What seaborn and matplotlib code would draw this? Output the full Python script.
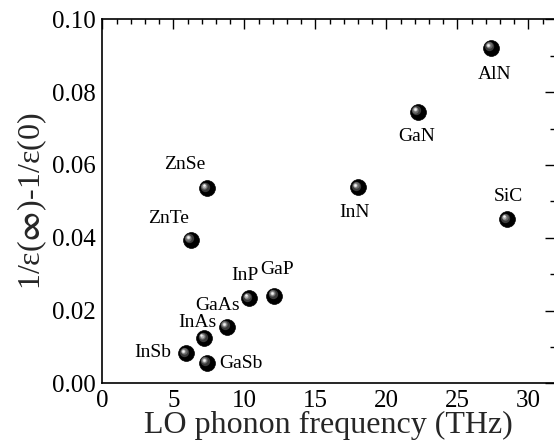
import matplotlib
matplotlib.use("Agg")
import matplotlib.pyplot as plt
import matplotlib.transforms as mtransforms
import seaborn as sns
import pandas as pd
from matplotlib.ticker import MultipleLocator

materials = ["AlN", "GaN", "ZnSe", "InN", "SiC", "ZnTe", "InP", "GaP",
             "GaAs", "InAs", "InSb", "GaSb"]
lo_freq = [27.38, 22.2, 7.34, 18.0, 28.5, 6.22, 10.33, 12.12,
           8.76, 7.17, 5.9, 7.34]
delta_inv_eps = [0.0922, 0.0746, 0.0536, 0.0538, 0.0451, 0.0394, 0.0234, 0.0241,
                 0.0156, 0.0124, 0.0082, 0.0057]

xlabel = "LO phonon frequency (THz)"
ylabel = "1/\u03b5($\\mathbf{\\infty}$)-1/\u03b5(0)"

# label offsets in pixels (dx, dy) relative to each marker
label_offsets = {
    "AlN": (4, -27), "GaN": (-1, -25), "ZnSe": (-22, 24), "InN": (-3, -25),
    "SiC": (1, 23), "ZnTe": (-22, 21), "InP": (-4, 23), "GaP": (3, 26),
    "GaAs": (-9, 21), "InAs": (-7, 16), "InSb": (-33, 1), "GaSb": (34, -1),
}

df = pd.DataFrame({"material": materials, "freq": lo_freq, "val": delta_inv_eps})

sns.set_style("white")
plt.rcParams["font.family"] = ["Liberation Serif", "DejaVu Serif"]
plt.rcParams["mathtext.fontset"] = "stix"

fig = plt.figure(figsize=(5.54, 4.47), dpi=100)
W, H = 554, 447
ax = fig.add_axes([102.3 / W, 1 - 383.3 / H, (555 - 102.3) / W, (383.3 - 19.3) / H])

# sphere-like markers: black base + soft highlight layers
sns.scatterplot(data=df, x="freq", y="val", ax=ax, s=130, color="black",
                edgecolor="black", linewidth=0.5, zorder=3, legend=False)
for size, col, off in [(45, "#3a3a3a", 1.6), (22, "#6a6a6a", 2.2),
                       (9, "#b0b0b0", 2.6), (3, "#f2f2f2", 2.8)]:
    tr = mtransforms.offset_copy(ax.transData, fig=fig, x=-off, y=off, units="dots")
    ax.scatter(df["freq"], df["val"], s=size, color=col, linewidths=0,
               transform=tr, zorder=4)

for m, xv, yv in zip(materials, lo_freq, delta_inv_eps):
    dx, dy = label_offsets[m]
    ax.annotate(m, (xv, yv), xytext=(dx, dy), textcoords="offset pixels",
                ha="center", va="center", fontsize=14, color="black")

ax.set_xlim(0, 31.88)
ax.set_ylim(0, 0.10)
ax.xaxis.set_minor_locator(MultipleLocator(1))
ax.yaxis.set_minor_locator(MultipleLocator(0.01))
ax.set_xticks([0, 5, 10, 15, 20, 25, 30])
ax.set_xticklabels(["0", "5", "10", "15", "20", "25", "30"])
ax.set_yticks([0, 0.02, 0.04, 0.06, 0.08, 0.10])
ax.set_yticklabels(["0.00", "0.02", "0.04", "0.06", "0.08", "0.10"])

ax.tick_params(which="both", direction="in", top=True, right=True,
               labelsize=18, colors="black", width=1.0, pad=5)
ax.tick_params(which="major", length=7)
ax.tick_params(which="minor", length=3.5)
for sp in ax.spines.values():
    sp.set_visible(True)
    sp.set_color("black")
    sp.set_linewidth(1.2)

ax.set_xlabel(xlabel, fontsize=23, labelpad=-1)
ax.set_ylabel(ylabel, fontsize=23, labelpad=2)
ax.grid(False)

fig.savefig("out.png", dpi=100)
